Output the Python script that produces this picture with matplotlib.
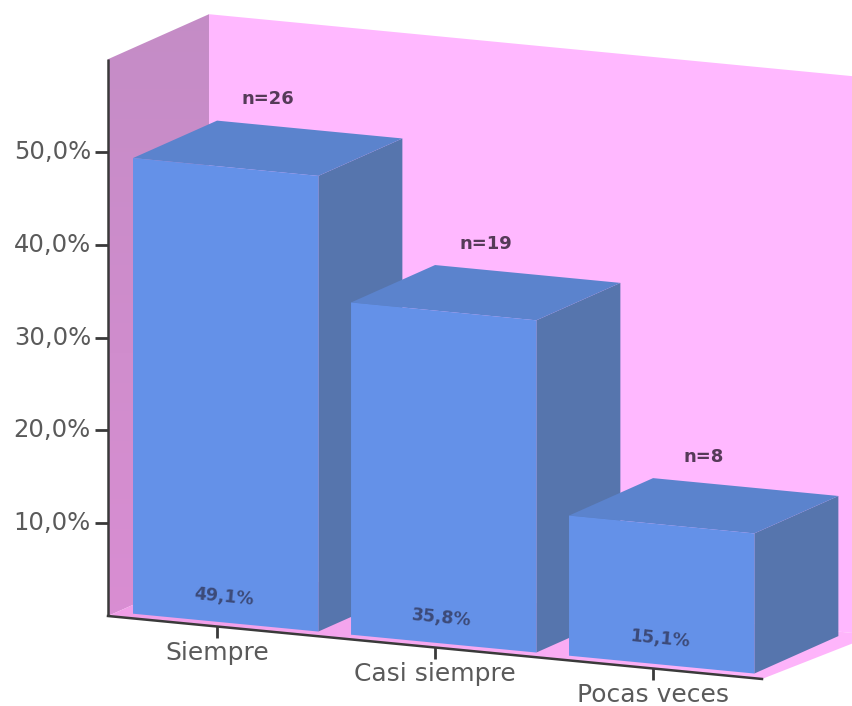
import numpy as np
import matplotlib
matplotlib.use("Agg")
import matplotlib.pyplot as plt
from matplotlib.colors import LinearSegmentedColormap
from matplotlib.patches import Polygon

categories = ["Siempre", "Casi siempre", "Pocas veces"]
percentages = [49.1, 35.8, 15.1]
counts = [26, 19, 8]
value_ticks = [10, 20, 30, 40, 50]
value_max = 60

# Oblique projection of (category position, value, depth) onto the canvas
ORIGIN_X, ORIGIN_Y = 108.0, 616.0
CAT_STEP = 218.0
SLOPE = 0.0963
PX_PER_UNIT = 9.28
DEPTH_X, DEPTH_Y = 101.0, -45.0
BAR_WIDTH = 0.85
BAR_DEPTH = (0.086, 0.918)


def project(cat, value=0.0, depth=0.0):
    run = cat * CAT_STEP
    x = ORIGIN_X + run + depth * DEPTH_X
    y = ORIGIN_Y + run * SLOPE + depth * DEPTH_Y - value * PX_PER_UNIT
    return x, y


def face(*corners):
    return [project(*c) for c in corners]


fig = plt.figure(figsize=(8.53, 7.06), dpi=100, facecolor="white")
ax = fig.add_axes([0, 0, 1, 1])
ax.set_xlim(0, 853)
ax.set_ylim(706, 0)
ax.axis("off")

n = len(categories)
INK = "#3a3a3a"
LABEL = "#5a5a5a"
plt.rcParams["font.family"] = ["DejaVu Sans"]


def shaded(corners, start, end, direction, z):
    # Gradient-filled face, clipped to its outline
    cmap = LinearSegmentedColormap.from_list("shade", [start, end])
    grad = np.linspace(0, 1, 256).reshape(-1, 1)
    if direction == "x":
        grad = grad.T
    img = ax.imshow(grad, cmap=cmap, extent=(0, 853, 706, 0), aspect="auto", zorder=z)
    poly = Polygon(corners, closed=True, transform=ax.transData, fc="none", ec="none")
    ax.add_patch(poly)
    img.set_clip_path(poly)


# Back wall, side wall and floor
ax.add_patch(Polygon(face((0, 0, 1), (n + 0.05, 0, 1), (n + 0.05, value_max, 1), (0, value_max, 1)),
                     closed=True, fc="#ffb8ff", ec="none", zorder=1))
shaded(face((0, 0, 0), (0, 0, 1), (0, value_max, 1), (0, value_max, 0)),
       "#c48cc6", "#dc8ed4", "y", 2)
shaded(face((0, 0, 0), (n, 0, 0), (n + 0.05, 0, 1), (0, 0, 1)),
       "#ee9ae4", "#ffb6fc", "x", 2)

# Bars, left to right so each one overlaps the side of its neighbour
for i, (pct, cnt) in enumerate(zip(percentages, counts)):
    left = i + (1 - BAR_WIDTH) / 2
    right = left + BAR_WIDTH
    d0, d1 = BAR_DEPTH
    z = 5 + i
    ax.add_patch(Polygon(face((right, 0, d0), (right, 0, d1), (right, pct, d1), (right, pct, d0)),
                         closed=True, fc="#5675ad", ec="none", zorder=z))
    ax.add_patch(Polygon(face((left, pct, d0), (right, pct, d0), (right, pct, d1), (left, pct, d1)),
                         closed=True, fc="#5b83cd", ec="none", zorder=z))
    ax.add_patch(Polygon(face((left, 0, d0), (right, 0, d0), (right, pct, d0), (left, pct, d0)),
                         closed=True, fc="#6491e8", ec="none", zorder=z))

    cx, cy = project(i + 0.5, 0, d0)
    ax.text(cx - 2, cy - 26, f"{pct:.1f}%".replace(".", ","), fontsize=12.5, fontweight="bold",
            color="#3c4a78", ha="center", va="center", rotation=-5.5,
            rotation_mode="anchor", zorder=20)

    tx, ty = project(i + 0.5, pct, (d0 + d1) / 2)
    ax.text(tx, ty - 49, f"n={cnt}", fontsize=13, fontweight="bold",
            color="#553a58", ha="center", va="center", zorder=20)

# Axes, drawn along the front edge of the floor and side wall
ax.plot(*zip(project(0, 0), project(0, value_max)), color=INK, lw=1.8, zorder=12,
        solid_capstyle="butt")
ax.plot(*zip(project(0, 0), project(n, 0)), color=INK, lw=1.8, zorder=12)

for v in value_ticks:
    x, y = project(0, v)
    ax.plot([x - 13, x], [y, y], color=INK, lw=2, zorder=12, solid_capstyle="butt")
    ax.text(x - 17, y, f"{v},0%", fontsize=17.5, color=LABEL, ha="right", va="center", zorder=20)

for i, name in enumerate(categories):
    x, y = project(i + 0.5, 0)
    ax.plot([x, x], [y, y + 12], color=INK, lw=2, zorder=12, solid_capstyle="butt")
    ax.text(x, y + 27, name, fontsize=18, color=LABEL, ha="center", va="center", zorder=20)

ax.set_xlim(0, 853)
ax.set_ylim(706, 0)
fig.savefig("out.png", dpi=100, facecolor="white")
